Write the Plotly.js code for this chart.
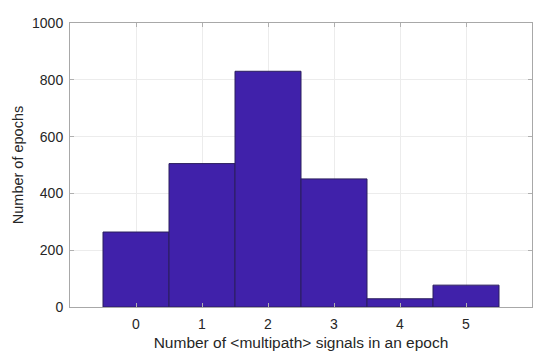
<!DOCTYPE html>
<html>
<head>
<meta charset="utf-8">
<script src="https://cdn.plot.ly/plotly-3.0.1.min.js"></script>
<style>
  body { margin: 0; background: #fff; }
  #chart { width: 550px; height: 358px; }
</style>
</head>
<body>
<div id="chart"></div>
<script>
// Histogram counts per number of multipath signals
const signalCounts = [0, 1, 2, 3, 4, 5];
const epochCounts = [264, 505, 830, 451, 29, 77];
const yTicks = [0, 200, 400, 600, 800, 1000];

const fontFamily = 'Liberation Sans, Arial, sans-serif';
const tickFont = { family: fontFamily, size: 14, color: '#262626' };

const data = [{
    x: signalCounts,
    y: epochCounts,
    type: 'bar',
    width: 1,
    marker: {
        color: '#4021aa',
        line: { color: '#2b1f5e', width: 1 }
    },
    hoverinfo: 'x+y'
}];

const layout = {
    width: 550,
    height: 358,
    margin: { l: 70, r: 18, t: 23, b: 51 },
    plot_bgcolor: '#ffffff',
    paper_bgcolor: '#ffffff',
    showlegend: false,
    xaxis: {
        range: [-1, 6],
        tickvals: signalCounts,
        ticks: 'inside',
        ticklen: 4,
        tickcolor: '#b0b0b0',
        ticklabelstandoff: 4,
        showgrid: true,
        gridcolor: '#ececec',
        zeroline: false,
        showline: true,
        linecolor: '#a8a8a8',
        linewidth: 1,
        mirror: 'ticks',
        tickfont: tickFont,
        title: { text: 'Number of <multipath> signals in an epoch', font: { family: fontFamily, size: 15.5, color: '#262626' }, standoff: 6 }
    },
    yaxis: {
        range: [0, 1000],
        tickvals: yTicks,
        ticks: 'inside',
        ticklen: 4,
        tickcolor: '#b0b0b0',
        ticklabelstandoff: 3,
        showgrid: true,
        gridcolor: '#ececec',
        zeroline: false,
        showline: true,
        linecolor: '#a8a8a8',
        linewidth: 1,
        mirror: 'ticks',
        tickfont: tickFont,
        title: { text: 'Number of epochs', font: { family: fontFamily, size: 14.5, color: '#262626' }, standoff: 4 }
    }
};

Plotly.newPlot('chart', data, layout, { displayModeBar: false, staticPlot: true });
</script>
</body>
</html>
